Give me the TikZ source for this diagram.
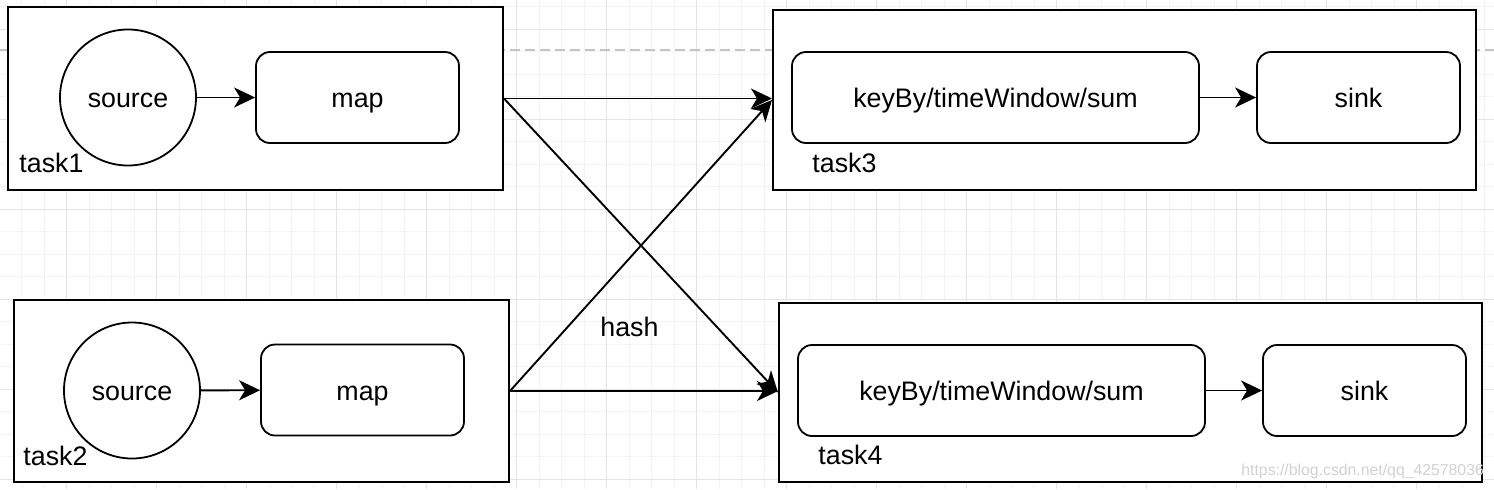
\documentclass[tikz,border=0pt]{standalone}
\usepackage{fontspec}
\setmainfont{Liberation Sans}
\usetikzlibrary{arrows.meta}
\tikzset {>={Stealth[length=10.5pt,width=10pt,inset=3pt]}}
\definecolor{gridminor}{HTML}{F4F4F4}
\definecolor{gridmajor}{HTML}{E4E4E4}
\definecolor{pagebreak}{HTML}{C4C4C4}
\definecolor{watermark}{HTML}{D2D2D2}
\tikzset{
  taskbox/.style={draw,line width=1pt,fill=white,inner sep=0pt},
  opbox/.style={draw,line width=0.9pt,fill=white,rounded corners=7pt,inner sep=0pt,
    minimum height=45.5pt,text height=12pt,text depth=1.8pt,
    font=\fontsize{13.4pt}{16pt}\selectfont},
  srcnode/.style={draw,circle,line width=0.9pt,fill=white,inner sep=0pt,
    minimum size=68pt,text height=12pt,text depth=1.8pt,
    font=\fontsize{13.4pt}{16pt}\selectfont},
  tasklabel/.style={anchor=base west,inner sep=0pt,font=\fontsize{13.4pt}{16pt}\selectfont},
  flow/.style={->,line width=0.95pt}
}

\begin{document}
\begin{tikzpicture}[x=0.5pt,y=-0.5pt]
\useasboundingbox (0,0) rectangle (1494,489);
\fill[white] (0,0) rectangle (1494,489);
\begin{scope}
\clip (0,0) rectangle (1494,489);
\foreach \i in {0,...,67} \draw[gridminor,line width=0.5pt] ({-0.8+22.5*\i},0) -- ++(0,489);
\foreach \j in {0,...,21} \draw[gridminor,line width=0.5pt] (0,{6.8+22.5*\j}) -- ++(1494,0);
\foreach \i in {0,...,16} \draw[gridmajor,line width=0.5pt] ({66.7+90*\i},0) -- ++(0,489);
\foreach \j in {0,...,5} \draw[gridmajor,line width=0.5pt] (0,{29.3+90*\j}) -- ++(1494,0);
\draw[pagebreak,line width=0.6pt,dash pattern=on 5pt off 2.5pt] (0,50) -- (1494,50);
\end{scope}

\node[taskbox,minimum width=247.5pt,minimum height=91.5pt] (task1) at (255.5,98.5) {};
\node[taskbox,minimum width=247.5pt,minimum height=91pt] (task2) at (261.5,391) {};
\node[taskbox,minimum width=351.5pt,minimum height=90pt] (task3) at (1124.5,100) {};
\node[taskbox,minimum width=351.5pt,minimum height=89.5pt] (task4) at (1130.5,392.5) {};

\node[srcnode] (source1) at (128,97.5) {source};
\node[opbox,minimum width=101.5pt] (map1) at (357.5,97.5) {map};
\node[tasklabel] (label1) at (19,172.5) {task1};
\draw[flow] (source1) -- (map1);

\node[srcnode] (source2) at (132,390.5) {source};
\node[opbox,minimum width=101.5pt] (map2) at (362.5,390) {map};
\node[tasklabel] (label2) at (23,465) {task2};
\draw[flow] (source2) -- (map2);

\node[opbox,minimum width=203.5pt] (keyby3) at (995.5,97.5) {keyBy/timeWindow/sum};
\node[opbox,minimum width=101.5pt] (sink3) at (1358.5,97.5) {sink};
\node[tasklabel] (label3) at (812,172.5) {task3};
\draw[flow] (keyby3) -- (sink3);

\node[opbox,minimum width=203.5pt] (keyby4) at (1001.5,390.5) {keyBy/timeWindow/sum};
\node[opbox,minimum width=101.5pt] (sink4) at (1364.5,390.5) {sink};
\node[tasklabel] (label4) at (818,464) {task4};
\draw[flow] (keyby4) -- (sink4);

\draw[flow] (task1.east) -- (task1.east -| task3.west);
\draw[flow] (task1.east) -- (task4.west);
\draw[flow] (task2.east) -- (task3.west);
\draw[flow] (task2.east) -- (task2.east -| task4.west);
\node[tasklabel] (hash) at (600,336.5) {hash};

\node[anchor=base west,inner sep=0pt,text=watermark,font=\fontsize{7.9pt}{9pt}\selectfont] (blog) at (1241,475) {https://blog.csdn.net/qq\_42578036};
\end{tikzpicture}
\end{document}
